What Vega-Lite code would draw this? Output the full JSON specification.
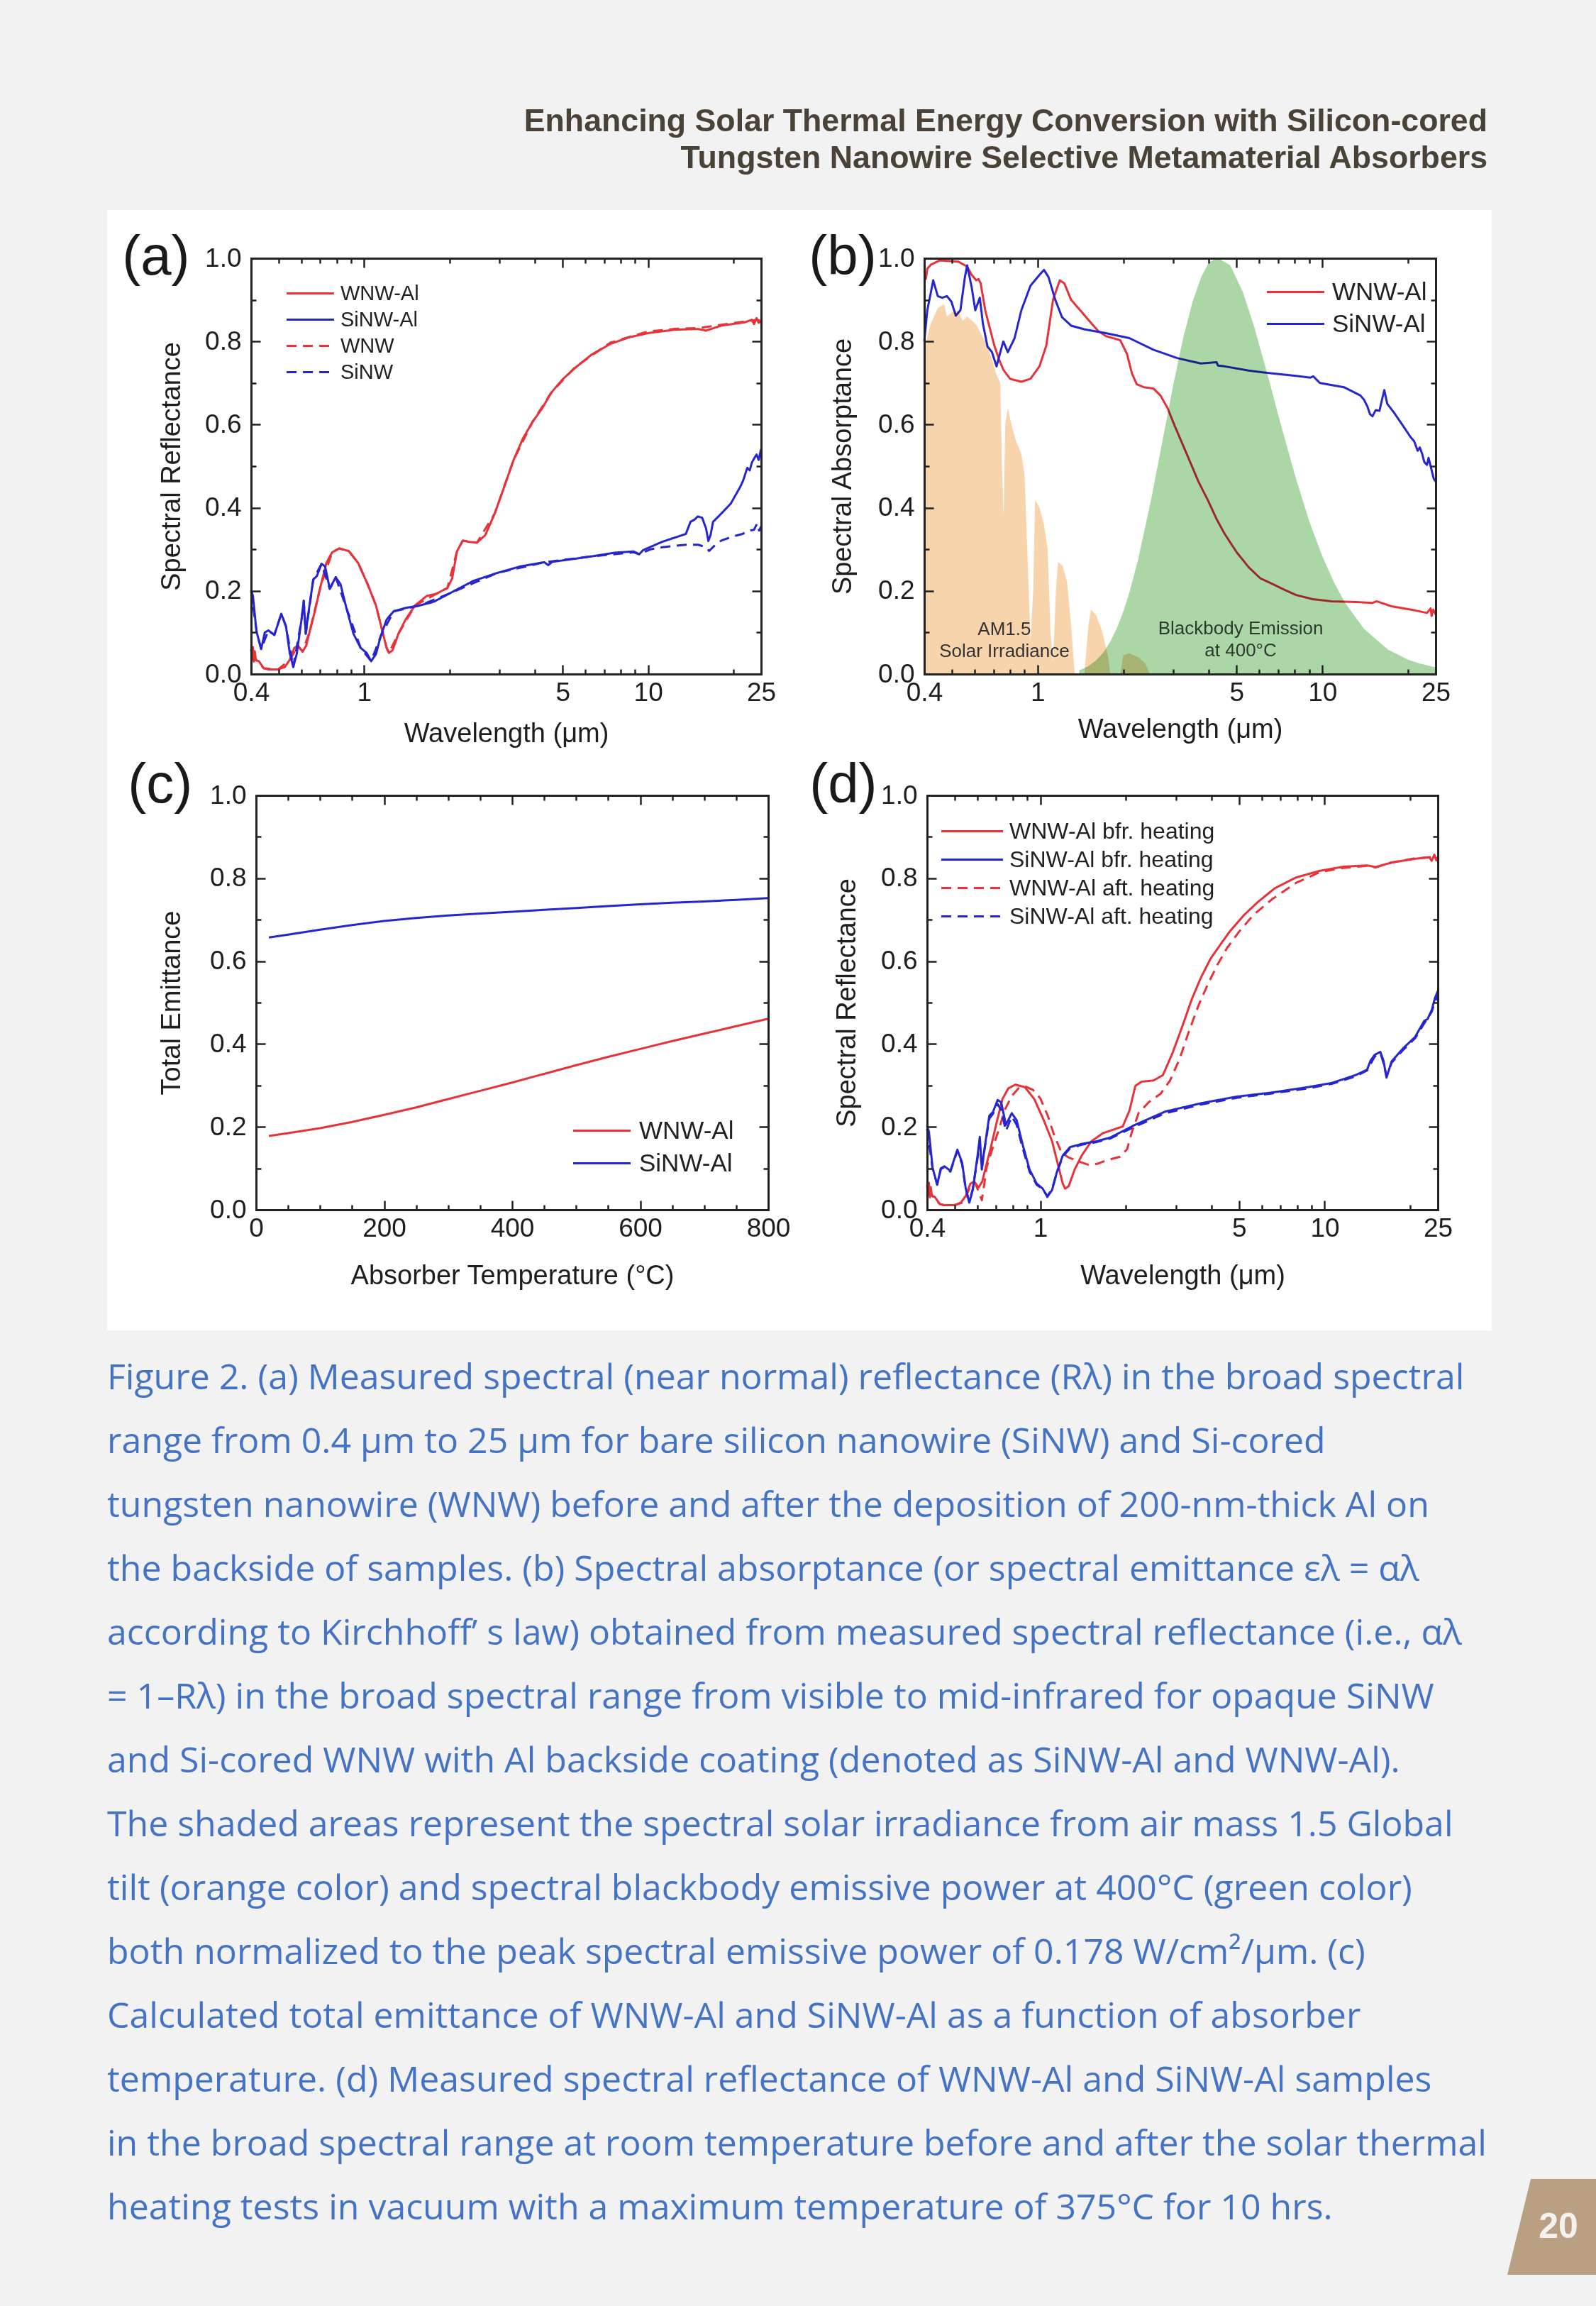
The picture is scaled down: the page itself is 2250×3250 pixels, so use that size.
{
"$schema": "https://vega.github.io/schema/vega-lite/v6.json",
"width": 2250, "height": 3250, "autosize": "none", "padding": 0,
"background": "#f2f2f2",
"config": {"view": {"stroke": null},
 "legend": {"labelLimit": 1000},
 "axis": {"labelFont": "Liberation Sans", "labelFontSize": 37, "labelColor": "#1e1e1e", "titleFont": "Liberation Sans", "titleFontSize": 38, "titleFontWeight": "normal", "titleColor": "#1e1e1e", "grid": false, "tickColor": "#222", "tickWidth": 2.5, "domainColor": "#222", "domainWidth": 3, "domainCap": "square", "labelFlush": false, "labelOverlap": false, "labelBound": false}},
"resolve": {"scale": {"x": "independent", "y": "independent", "color": "independent", "strokeDash": "independent"}, "axis": {"x": "independent", "y": "independent"}, "legend": {"color": "independent", "strokeDash": "independent"}},
"datasets": {
 "header": [{"h":1,"t":"Enhancing Solar Thermal Energy Conversion with Silicon-cored"},{"h":2,"t":"Tungsten Nanowire Selective Metamaterial Absorbers"}],
 "caption": [
  {"line":1,"t":"Figure 2. (a) Measured spectral (near normal) reflectance (Rλ) in the broad spectral"},
  {"line":2,"t":"range from 0.4 μm to 25 μm for bare silicon nanowire (SiNW) and Si-cored"},
  {"line":3,"t":"tungsten nanowire (WNW) before and after the deposition of 200-nm-thick Al on"},
  {"line":4,"t":"the backside of samples. (b) Spectral absorptance (or spectral emittance ελ = αλ"},
  {"line":5,"t":"according to Kirchhoff’ s law) obtained from measured spectral reflectance (i.e., αλ"},
  {"line":6,"t":"= 1–Rλ) in the broad spectral range from visible to mid-infrared for opaque SiNW"},
  {"line":7,"t":"and Si-cored WNW with Al backside coating (denoted as SiNW-Al and WNW-Al)."},
  {"line":8,"t":"The shaded areas represent the spectral solar irradiance from air mass 1.5 Global"},
  {"line":9,"t":"tilt (orange color) and spectral blackbody emissive power at 400°C (green color)"},
  {"line":10,"t":"both normalized to the peak spectral emissive power of 0.178 W/cm²/μm. (c)"},
  {"line":11,"t":"Calculated total emittance of WNW-Al and SiNW-Al as a function of absorber"},
  {"line":12,"t":"temperature. (d) Measured spectral reflectance of WNW-Al and SiNW-Al samples"},
  {"line":13,"t":"in the broad spectral range at room temperature before and after the solar thermal"},
  {"line":14,"t":"heating tests in vacuum with a maximum temperature of 375°C for 10 hrs."}],
 "a": [
  {"x":0.4,"y":0.06,"s":"WNW-Al"},{"x":0.403,"y":0.035,"s":"WNW-Al"},{"x":0.406,"y":0.065,"s":"WNW-Al"},{"x":0.409,"y":0.03,"s":"WNW-Al"},{"x":0.412,"y":0.055,"s":"WNW-Al"},{"x":0.416,"y":0.033,"s":"WNW-Al"},{"x":0.426,"y":0.031,"s":"WNW-Al"},{"x":0.443,"y":0.014,"s":"WNW-Al"},{"x":0.46,"y":0.011,"s":"WNW-Al"},{"x":0.497,"y":0.011,"s":"WNW-Al"},{"x":0.526,"y":0.017,"s":"WNW-Al"},{"x":0.547,"y":0.034,"s":"WNW-Al"},{"x":0.568,"y":0.063,"s":"WNW-Al"},{"x":0.585,"y":0.068,"s":"WNW-Al"},{"x":0.607,"y":0.054,"s":"WNW-Al"},{"x":0.625,"y":0.068,"s":"WNW-Al"},{"x":0.643,"y":0.102,"s":"WNW-Al"},{"x":0.669,"y":0.148,"s":"WNW-Al"},{"x":0.702,"y":0.21,"s":"WNW-Al"},{"x":0.736,"y":0.267,"s":"WNW-Al"},{"x":0.772,"y":0.293,"s":"WNW-Al"},{"x":0.818,"y":0.302,"s":"WNW-Al"},{"x":0.883,"y":0.296,"s":"WNW-Al"},{"x":0.953,"y":0.267,"s":"WNW-Al"},{"x":1.029,"y":0.216,"s":"WNW-Al"},{"x":1.101,"y":0.165,"s":"WNW-Al"},{"x":1.155,"y":0.108,"s":"WNW-Al"},{"x":1.2,"y":0.063,"s":"WNW-Al"},{"x":1.223,"y":0.051,"s":"WNW-Al"},{"x":1.259,"y":0.057,"s":"WNW-Al"},{"x":1.321,"y":0.097,"s":"WNW-Al"},{"x":1.399,"y":0.131,"s":"WNW-Al"},{"x":1.511,"y":0.165,"s":"WNW-Al"},{"x":1.662,"y":0.188,"s":"WNW-Al"},{"x":1.795,"y":0.193,"s":"WNW-Al"},{"x":1.965,"y":0.207,"s":"WNW-Al"},{"x":2.042,"y":0.23,"s":"WNW-Al"},{"x":2.123,"y":0.295,"s":"WNW-Al"},{"x":2.225,"y":0.321,"s":"WNW-Al"},{"x":2.334,"y":0.318,"s":"WNW-Al"},{"x":2.497,"y":0.316,"s":"WNW-Al"},{"x":2.67,"y":0.334,"s":"WNW-Al"},{"x":2.883,"y":0.386,"s":"WNW-Al"},{"x":3.113,"y":0.45,"s":"WNW-Al"},{"x":3.36,"y":0.515,"s":"WNW-Al"},{"x":3.627,"y":0.567,"s":"WNW-Al"},{"x":3.914,"y":0.606,"s":"WNW-Al"},{"x":4.226,"y":0.638,"s":"WNW-Al"},{"x":4.562,"y":0.677,"s":"WNW-Al"},{"x":5.02,"y":0.71,"s":"WNW-Al"},{"x":5.525,"y":0.736,"s":"WNW-Al"},{"x":6.318,"y":0.768,"s":"WNW-Al"},{"x":7.36,"y":0.794,"s":"WNW-Al"},{"x":8.58,"y":0.81,"s":"WNW-Al"},{"x":10,"y":0.82,"s":"WNW-Al"},{"x":12.35,"y":0.828,"s":"WNW-Al"},{"x":14.95,"y":0.83,"s":"WNW-Al"},{"x":16,"y":0.826,"s":"WNW-Al"},{"x":18.1,"y":0.838,"s":"WNW-Al"},{"x":21.9,"y":0.846,"s":"WNW-Al"},{"x":23.2,"y":0.852,"s":"WNW-Al"},{"x":23.6,"y":0.842,"s":"WNW-Al"},{"x":24.1,"y":0.856,"s":"WNW-Al"},{"x":24.5,"y":0.845,"s":"WNW-Al"},{"x":25,"y":0.849,"s":"WNW-Al"},
  {"x":0.4,"y":0.05,"s":"WNW"},{"x":0.416,"y":0.035,"s":"WNW"},{"x":0.443,"y":0.014,"s":"WNW"},{"x":0.497,"y":0.011,"s":"WNW"},{"x":0.547,"y":0.034,"s":"WNW"},{"x":0.585,"y":0.068,"s":"WNW"},{"x":0.607,"y":0.054,"s":"WNW"},{"x":0.643,"y":0.102,"s":"WNW"},{"x":0.702,"y":0.21,"s":"WNW"},{"x":0.772,"y":0.293,"s":"WNW"},{"x":0.818,"y":0.302,"s":"WNW"},{"x":0.883,"y":0.296,"s":"WNW"},{"x":0.953,"y":0.267,"s":"WNW"},{"x":1.029,"y":0.216,"s":"WNW"},{"x":1.101,"y":0.165,"s":"WNW"},{"x":1.2,"y":0.063,"s":"WNW"},{"x":1.223,"y":0.051,"s":"WNW"},{"x":1.321,"y":0.097,"s":"WNW"},{"x":1.511,"y":0.165,"s":"WNW"},{"x":1.795,"y":0.193,"s":"WNW"},{"x":1.965,"y":0.207,"s":"WNW"},{"x":2.123,"y":0.295,"s":"WNW"},{"x":2.225,"y":0.321,"s":"WNW"},{"x":2.497,"y":0.316,"s":"WNW"},{"x":2.883,"y":0.386,"s":"WNW"},{"x":3.36,"y":0.515,"s":"WNW"},{"x":3.914,"y":0.606,"s":"WNW"},{"x":4.562,"y":0.677,"s":"WNW"},{"x":5.525,"y":0.738,"s":"WNW"},{"x":7.36,"y":0.797,"s":"WNW"},{"x":10,"y":0.824,"s":"WNW"},{"x":12.35,"y":0.83,"s":"WNW"},{"x":14.95,"y":0.832,"s":"WNW"},{"x":18.1,"y":0.84,"s":"WNW"},{"x":21.9,"y":0.848,"s":"WNW"},{"x":24.1,"y":0.852,"s":"WNW"},{"x":25,"y":0.85,"s":"WNW"},
  {"x":0.4,"y":0.202,"s":"SiNW-Al"},{"x":0.406,"y":0.188,"s":"SiNW-Al"},{"x":0.418,"y":0.102,"s":"SiNW-Al"},{"x":0.434,"y":0.06,"s":"SiNW-Al"},{"x":0.447,"y":0.1,"s":"SiNW-Al"},{"x":0.46,"y":0.105,"s":"SiNW-Al"},{"x":0.483,"y":0.094,"s":"SiNW-Al"},{"x":0.511,"y":0.145,"s":"SiNW-Al"},{"x":0.531,"y":0.114,"s":"SiNW-Al"},{"x":0.547,"y":0.051,"s":"SiNW-Al"},{"x":0.563,"y":0.017,"s":"SiNW-Al"},{"x":0.579,"y":0.048,"s":"SiNW-Al"},{"x":0.602,"y":0.131,"s":"SiNW-Al"},{"x":0.613,"y":0.176,"s":"SiNW-Al"},{"x":0.623,"y":0.097,"s":"SiNW-Al"},{"x":0.635,"y":0.142,"s":"SiNW-Al"},{"x":0.662,"y":0.227,"s":"SiNW-Al"},{"x":0.682,"y":0.236,"s":"SiNW-Al"},{"x":0.708,"y":0.265,"s":"SiNW-Al"},{"x":0.729,"y":0.259,"s":"SiNW-Al"},{"x":0.757,"y":0.205,"s":"SiNW-Al"},{"x":0.794,"y":0.233,"s":"SiNW-Al"},{"x":0.826,"y":0.216,"s":"SiNW-Al"},{"x":0.866,"y":0.159,"s":"SiNW-Al"},{"x":0.917,"y":0.097,"s":"SiNW-Al"},{"x":0.972,"y":0.063,"s":"SiNW-Al"},{"x":1.02,"y":0.051,"s":"SiNW-Al"},{"x":1.059,"y":0.031,"s":"SiNW-Al"},{"x":1.101,"y":0.048,"s":"SiNW-Al"},{"x":1.144,"y":0.091,"s":"SiNW-Al"},{"x":1.2,"y":0.131,"s":"SiNW-Al"},{"x":1.271,"y":0.151,"s":"SiNW-Al"},{"x":1.399,"y":0.159,"s":"SiNW-Al"},{"x":1.57,"y":0.165,"s":"SiNW-Al"},{"x":1.76,"y":0.174,"s":"SiNW-Al"},{"x":2,"y":0.194,"s":"SiNW-Al"},{"x":2.424,"y":0.224,"s":"SiNW-Al"},{"x":2.936,"y":0.243,"s":"SiNW-Al"},{"x":3.556,"y":0.259,"s":"SiNW-Al"},{"x":4.31,"y":0.269,"s":"SiNW-Al"},{"x":4.45,"y":0.262,"s":"SiNW-Al"},{"x":4.6,"y":0.27,"s":"SiNW-Al"},{"x":5.22,"y":0.275,"s":"SiNW-Al"},{"x":6.32,"y":0.283,"s":"SiNW-Al"},{"x":7.65,"y":0.292,"s":"SiNW-Al"},{"x":8.9,"y":0.295,"s":"SiNW-Al"},{"x":9.3,"y":0.288,"s":"SiNW-Al"},{"x":9.6,"y":0.298,"s":"SiNW-Al"},{"x":11.2,"y":0.318,"s":"SiNW-Al"},{"x":13.58,"y":0.337,"s":"SiNW-Al"},{"x":14.1,"y":0.366,"s":"SiNW-Al"},{"x":14.6,"y":0.372,"s":"SiNW-Al"},{"x":14.95,"y":0.379,"s":"SiNW-Al"},{"x":15.5,"y":0.376,"s":"SiNW-Al"},{"x":16,"y":0.35,"s":"SiNW-Al"},{"x":16.3,"y":0.32,"s":"SiNW-Al"},{"x":16.6,"y":0.335,"s":"SiNW-Al"},{"x":16.93,"y":0.366,"s":"SiNW-Al"},{"x":18.1,"y":0.386,"s":"SiNW-Al"},{"x":19.55,"y":0.41,"s":"SiNW-Al"},{"x":20.3,"y":0.43,"s":"SiNW-Al"},{"x":21.1,"y":0.45,"s":"SiNW-Al"},{"x":21.6,"y":0.465,"s":"SiNW-Al"},{"x":22.35,"y":0.496,"s":"SiNW-Al"},{"x":22.8,"y":0.49,"s":"SiNW-Al"},{"x":23.2,"y":0.509,"s":"SiNW-Al"},{"x":23.7,"y":0.52,"s":"SiNW-Al"},{"x":24.1,"y":0.528,"s":"SiNW-Al"},{"x":24.5,"y":0.515,"s":"SiNW-Al"},{"x":25,"y":0.541,"s":"SiNW-Al"},
  {"x":0.4,"y":0.2,"s":"SiNW"},{"x":0.418,"y":0.102,"s":"SiNW"},{"x":0.434,"y":0.06,"s":"SiNW"},{"x":0.46,"y":0.105,"s":"SiNW"},{"x":0.483,"y":0.094,"s":"SiNW"},{"x":0.511,"y":0.145,"s":"SiNW"},{"x":0.531,"y":0.114,"s":"SiNW"},{"x":0.563,"y":0.017,"s":"SiNW"},{"x":0.602,"y":0.131,"s":"SiNW"},{"x":0.613,"y":0.176,"s":"SiNW"},{"x":0.623,"y":0.097,"s":"SiNW"},{"x":0.662,"y":0.227,"s":"SiNW"},{"x":0.708,"y":0.265,"s":"SiNW"},{"x":0.757,"y":0.205,"s":"SiNW"},{"x":0.794,"y":0.233,"s":"SiNW"},{"x":0.866,"y":0.159,"s":"SiNW"},{"x":0.972,"y":0.063,"s":"SiNW"},{"x":1.059,"y":0.031,"s":"SiNW"},{"x":1.144,"y":0.091,"s":"SiNW"},{"x":1.271,"y":0.151,"s":"SiNW"},{"x":1.57,"y":0.165,"s":"SiNW"},{"x":2,"y":0.194,"s":"SiNW"},{"x":2.936,"y":0.243,"s":"SiNW"},{"x":4.31,"y":0.269,"s":"SiNW"},{"x":6.32,"y":0.283,"s":"SiNW"},{"x":8.9,"y":0.293,"s":"SiNW"},{"x":9.3,"y":0.288,"s":"SiNW"},{"x":10.2,"y":0.3,"s":"SiNW"},{"x":11.2,"y":0.305,"s":"SiNW"},{"x":12.3,"y":0.308,"s":"SiNW"},{"x":13.6,"y":0.311,"s":"SiNW"},{"x":15,"y":0.311,"s":"SiNW"},{"x":16,"y":0.305,"s":"SiNW"},{"x":16.4,"y":0.296,"s":"SiNW"},{"x":17.2,"y":0.31,"s":"SiNW"},{"x":18.1,"y":0.321,"s":"SiNW"},{"x":19.9,"y":0.331,"s":"SiNW"},{"x":21.5,"y":0.337,"s":"SiNW"},{"x":22.5,"y":0.345,"s":"SiNW"},{"x":23.6,"y":0.347,"s":"SiNW"},{"x":24.2,"y":0.362,"s":"SiNW"},{"x":24.6,"y":0.345,"s":"SiNW"},{"x":25,"y":0.355,"s":"SiNW"}],
 "b": [
  {"x":0.4,"y":0.968,"s":"WNW-Al"},{"x":0.405,"y":0.95,"s":"WNW-Al"},{"x":0.41,"y":0.975,"s":"WNW-Al"},{"x":0.4225,"y":0.985,"s":"WNW-Al"},{"x":0.4544,"y":0.995,"s":"WNW-Al"},{"x":0.526,"y":0.992,"s":"WNW-Al"},{"x":0.566,"y":0.98,"s":"WNW-Al"},{"x":0.587,"y":0.96,"s":"WNW-Al"},{"x":0.609,"y":0.947,"s":"WNW-Al"},{"x":0.62,"y":0.95,"s":"WNW-Al"},{"x":0.631,"y":0.94,"s":"WNW-Al"},{"x":0.655,"y":0.875,"s":"WNW-Al"},{"x":0.679,"y":0.833,"s":"WNW-Al"},{"x":0.705,"y":0.79,"s":"WNW-Al"},{"x":0.731,"y":0.758,"s":"WNW-Al"},{"x":0.758,"y":0.732,"s":"WNW-Al"},{"x":0.801,"y":0.71,"s":"WNW-Al"},{"x":0.877,"y":0.703,"s":"WNW-Al"},{"x":0.944,"y":0.71,"s":"WNW-Al"},{"x":1.015,"y":0.74,"s":"WNW-Al"},{"x":1.073,"y":0.79,"s":"WNW-Al"},{"x":1.133,"y":0.9,"s":"WNW-Al"},{"x":1.197,"y":0.947,"s":"WNW-Al"},{"x":1.241,"y":0.94,"s":"WNW-Al"},{"x":1.311,"y":0.9,"s":"WNW-Al"},{"x":1.411,"y":0.875,"s":"WNW-Al"},{"x":1.517,"y":0.85,"s":"WNW-Al"},{"x":1.633,"y":0.825,"s":"WNW-Al"},{"x":1.735,"y":0.813,"s":"WNW-Al"},{"x":1.95,"y":0.803,"s":"WNW-Al"},{"x":2.06,"y":0.77,"s":"WNW-Al"},{"x":2.145,"y":0.723,"s":"WNW-Al"},{"x":2.23,"y":0.697,"s":"WNW-Al"},{"x":2.36,"y":0.69,"s":"WNW-Al"},{"x":2.55,"y":0.687,"s":"WNW-Al"},{"x":2.7,"y":0.67,"s":"WNW-Al"},{"x":2.86,"y":0.64,"s":"WNW-Al"},{"x":3.03,"y":0.597,"s":"WNW-Al"},{"x":3.21,"y":0.557,"s":"WNW-Al"},{"x":3.4,"y":0.517,"s":"WNW-Al"},{"x":3.67,"y":0.463,"s":"WNW-Al"},{"x":3.97,"y":0.417,"s":"WNW-Al"},{"x":4.25,"y":0.373,"s":"WNW-Al"},{"x":4.54,"y":0.337,"s":"WNW-Al"},{"x":5,"y":0.293,"s":"WNW-Al"},{"x":5.51,"y":0.257,"s":"WNW-Al"},{"x":6.06,"y":0.23,"s":"WNW-Al"},{"x":6.67,"y":0.217,"s":"WNW-Al"},{"x":7.35,"y":0.203,"s":"WNW-Al"},{"x":8.09,"y":0.19,"s":"WNW-Al"},{"x":9.26,"y":0.18,"s":"WNW-Al"},{"x":10.8,"y":0.175,"s":"WNW-Al"},{"x":13.1,"y":0.173,"s":"WNW-Al"},{"x":14.98,"y":0.171,"s":"WNW-Al"},{"x":15.5,"y":0.175,"s":"WNW-Al"},{"x":17.5,"y":0.163,"s":"WNW-Al"},{"x":21.2,"y":0.153,"s":"WNW-Al"},{"x":23.3,"y":0.147,"s":"WNW-Al"},{"x":24,"y":0.158,"s":"WNW-Al"},{"x":24.2,"y":0.14,"s":"WNW-Al"},{"x":24.5,"y":0.155,"s":"WNW-Al"},{"x":25,"y":0.143,"s":"WNW-Al"},
  {"x":0.4,"y":0.8,"s":"SiNW-Al"},{"x":0.41,"y":0.875,"s":"SiNW-Al"},{"x":0.4195,"y":0.909,"s":"SiNW-Al"},{"x":0.43,"y":0.947,"s":"SiNW-Al"},{"x":0.4463,"y":0.909,"s":"SiNW-Al"},{"x":0.4628,"y":0.905,"s":"SiNW-Al"},{"x":0.48,"y":0.909,"s":"SiNW-Al"},{"x":0.498,"y":0.896,"s":"SiNW-Al"},{"x":0.5164,"y":0.862,"s":"SiNW-Al"},{"x":0.5357,"y":0.875,"s":"SiNW-Al"},{"x":0.5557,"y":0.955,"s":"SiNW-Al"},{"x":0.566,"y":0.983,"s":"SiNW-Al"},{"x":0.587,"y":0.93,"s":"SiNW-Al"},{"x":0.6043,"y":0.875,"s":"SiNW-Al"},{"x":0.6267,"y":0.905,"s":"SiNW-Al"},{"x":0.643,"y":0.842,"s":"SiNW-Al"},{"x":0.6669,"y":0.788,"s":"SiNW-Al"},{"x":0.6918,"y":0.774,"s":"SiNW-Al"},{"x":0.7175,"y":0.74,"s":"SiNW-Al"},{"x":0.7444,"y":0.781,"s":"SiNW-Al"},{"x":0.758,"y":0.8,"s":"SiNW-Al"},{"x":0.7862,"y":0.774,"s":"SiNW-Al"},{"x":0.8304,"y":0.808,"s":"SiNW-Al"},{"x":0.877,"y":0.875,"s":"SiNW-Al"},{"x":0.944,"y":0.934,"s":"SiNW-Al"},{"x":1.015,"y":0.96,"s":"SiNW-Al"},{"x":1.053,"y":0.972,"s":"SiNW-Al"},{"x":1.092,"y":0.955,"s":"SiNW-Al"},{"x":1.154,"y":0.9,"s":"SiNW-Al"},{"x":1.219,"y":0.858,"s":"SiNW-Al"},{"x":1.311,"y":0.838,"s":"SiNW-Al"},{"x":1.463,"y":0.829,"s":"SiNW-Al"},{"x":1.735,"y":0.82,"s":"SiNW-Al"},{"x":2.1,"y":0.808,"s":"SiNW-Al"},{"x":2.55,"y":0.78,"s":"SiNW-Al"},{"x":3.09,"y":0.76,"s":"SiNW-Al"},{"x":3.74,"y":0.747,"s":"SiNW-Al"},{"x":4.25,"y":0.75,"s":"SiNW-Al"},{"x":4.3,"y":0.742,"s":"SiNW-Al"},{"x":4.54,"y":0.74,"s":"SiNW-Al"},{"x":5.51,"y":0.73,"s":"SiNW-Al"},{"x":6.67,"y":0.723,"s":"SiNW-Al"},{"x":8.09,"y":0.717,"s":"SiNW-Al"},{"x":9.08,"y":0.713,"s":"SiNW-Al"},{"x":9.3,"y":0.716,"s":"SiNW-Al"},{"x":9.8,"y":0.7,"s":"SiNW-Al"},{"x":11.9,"y":0.69,"s":"SiNW-Al"},{"x":13.6,"y":0.67,"s":"SiNW-Al"},{"x":14,"y":0.66,"s":"SiNW-Al"},{"x":14.4,"y":0.643,"s":"SiNW-Al"},{"x":14.7,"y":0.625,"s":"SiNW-Al"},{"x":15,"y":0.62,"s":"SiNW-Al"},{"x":15.4,"y":0.635,"s":"SiNW-Al"},{"x":15.86,"y":0.633,"s":"SiNW-Al"},{"x":16.2,"y":0.66,"s":"SiNW-Al"},{"x":16.5,"y":0.683,"s":"SiNW-Al"},{"x":16.9,"y":0.65,"s":"SiNW-Al"},{"x":17.8,"y":0.63,"s":"SiNW-Al"},{"x":19.2,"y":0.597,"s":"SiNW-Al"},{"x":20.4,"y":0.57,"s":"SiNW-Al"},{"x":21,"y":0.56,"s":"SiNW-Al"},{"x":21.6,"y":0.537,"s":"SiNW-Al"},{"x":22,"y":0.545,"s":"SiNW-Al"},{"x":22.4,"y":0.53,"s":"SiNW-Al"},{"x":22.8,"y":0.51,"s":"SiNW-Al"},{"x":23.3,"y":0.503,"s":"SiNW-Al"},{"x":23.6,"y":0.52,"s":"SiNW-Al"},{"x":24.2,"y":0.49,"s":"SiNW-Al"},{"x":24.6,"y":0.47,"s":"SiNW-Al"},{"x":25,"y":0.463,"s":"SiNW-Al"}],
 "solar": [
  {"x":0.4,"y":0.78},{"x":0.42,"y":0.84},{"x":0.446,"y":0.88},{"x":0.47,"y":0.89},{"x":0.48,"y":0.86},{"x":0.5,"y":0.87},{"x":0.526,"y":0.875},{"x":0.545,"y":0.85},{"x":0.566,"y":0.86},{"x":0.609,"y":0.84},{"x":0.655,"y":0.8},{"x":0.69,"y":0.76},{"x":0.717,"y":0.72},{"x":0.74,"y":0.7},{"x":0.75,"y":0.5},{"x":0.76,"y":0.38},{"x":0.77,"y":0.6},{"x":0.786,"y":0.64},{"x":0.81,"y":0.6},{"x":0.84,"y":0.56},{"x":0.877,"y":0.53},{"x":0.9,"y":0.48},{"x":0.92,"y":0.3},{"x":0.944,"y":0.08},{"x":0.965,"y":0.2},{"x":0.98,"y":0.42},{"x":1.015,"y":0.4},{"x":1.053,"y":0.36},{"x":1.085,"y":0.3},{"x":1.11,"y":0.1},{"x":1.133,"y":0.03},{"x":1.16,"y":0.2},{"x":1.18,"y":0.27},{"x":1.225,"y":0.26},{"x":1.27,"y":0.22},{"x":1.31,"y":0.12},{"x":1.35,"y":0},{"x":1.46,"y":0},{"x":1.51,"y":0.12},{"x":1.54,"y":0.155},{"x":1.61,"y":0.14},{"x":1.69,"y":0.1},{"x":1.77,"y":0.04},{"x":1.8,"y":0},{"x":1.95,"y":0},{"x":2,"y":0.045},{"x":2.1,"y":0.05},{"x":2.26,"y":0.04},{"x":2.39,"y":0.025},{"x":2.48,"y":0}],
 "bb": [
  {"x":1.4,"y":0.009},{"x":1.5,"y":0.018},{"x":1.6,"y":0.032},{"x":1.7,"y":0.051},{"x":1.8,"y":0.078},{"x":1.9,"y":0.111},{"x":2,"y":0.15},{"x":2.1,"y":0.196},{"x":2.25,"y":0.273},{"x":2.5,"y":0.417},{"x":2.75,"y":0.564},{"x":3,"y":0.698},{"x":3.25,"y":0.81},{"x":3.5,"y":0.895},{"x":3.75,"y":0.954},{"x":4,"y":0.991},{"x":4.31,"y":1},{"x":4.75,"y":0.983},{"x":5.25,"y":0.92},{"x":5.75,"y":0.838},{"x":6,"y":0.792},{"x":6.5,"y":0.707},{"x":7,"y":0.623},{"x":8,"y":0.48},{"x":9,"y":0.367},{"x":10,"y":0.283},{"x":11,"y":0.22},{"x":12,"y":0.172},{"x":14,"y":0.109},{"x":17,"y":0.059},{"x":20,"y":0.0345},{"x":22,"y":0.025},{"x":25,"y":0.016}],
 "c": [
  {"x":20,"y":0.178,"s":"WNW-Al"},{"x":50,"y":0.185,"s":"WNW-Al"},{"x":100,"y":0.197,"s":"WNW-Al"},{"x":150,"y":0.212,"s":"WNW-Al"},{"x":200,"y":0.229,"s":"WNW-Al"},{"x":250,"y":0.247,"s":"WNW-Al"},{"x":300,"y":0.267,"s":"WNW-Al"},{"x":350,"y":0.287,"s":"WNW-Al"},{"x":400,"y":0.307,"s":"WNW-Al"},{"x":450,"y":0.328,"s":"WNW-Al"},{"x":500,"y":0.349,"s":"WNW-Al"},{"x":550,"y":0.369,"s":"WNW-Al"},{"x":600,"y":0.388,"s":"WNW-Al"},{"x":650,"y":0.407,"s":"WNW-Al"},{"x":700,"y":0.425,"s":"WNW-Al"},{"x":750,"y":0.443,"s":"WNW-Al"},{"x":800,"y":0.461,"s":"WNW-Al"},
  {"x":20,"y":0.657,"s":"SiNW-Al"},{"x":50,"y":0.664,"s":"SiNW-Al"},{"x":100,"y":0.676,"s":"SiNW-Al"},{"x":150,"y":0.687,"s":"SiNW-Al"},{"x":200,"y":0.697,"s":"SiNW-Al"},{"x":250,"y":0.704,"s":"SiNW-Al"},{"x":300,"y":0.71,"s":"SiNW-Al"},{"x":350,"y":0.715,"s":"SiNW-Al"},{"x":400,"y":0.719,"s":"SiNW-Al"},{"x":450,"y":0.724,"s":"SiNW-Al"},{"x":500,"y":0.728,"s":"SiNW-Al"},{"x":550,"y":0.733,"s":"SiNW-Al"},{"x":600,"y":0.737,"s":"SiNW-Al"},{"x":650,"y":0.741,"s":"SiNW-Al"},{"x":700,"y":0.744,"s":"SiNW-Al"},{"x":750,"y":0.748,"s":"SiNW-Al"},{"x":800,"y":0.752,"s":"SiNW-Al"}],
 "d": [
  {"x":0.4,"y":0.06,"s":"WNW-Al bfr. heating"},{"x":0.403,"y":0.035,"s":"WNW-Al bfr. heating"},{"x":0.406,"y":0.065,"s":"WNW-Al bfr. heating"},{"x":0.409,"y":0.03,"s":"WNW-Al bfr. heating"},{"x":0.412,"y":0.055,"s":"WNW-Al bfr. heating"},{"x":0.416,"y":0.033,"s":"WNW-Al bfr. heating"},{"x":0.426,"y":0.031,"s":"WNW-Al bfr. heating"},{"x":0.443,"y":0.014,"s":"WNW-Al bfr. heating"},{"x":0.46,"y":0.011,"s":"WNW-Al bfr. heating"},{"x":0.497,"y":0.011,"s":"WNW-Al bfr. heating"},{"x":0.526,"y":0.017,"s":"WNW-Al bfr. heating"},{"x":0.547,"y":0.034,"s":"WNW-Al bfr. heating"},{"x":0.568,"y":0.063,"s":"WNW-Al bfr. heating"},{"x":0.585,"y":0.068,"s":"WNW-Al bfr. heating"},{"x":0.607,"y":0.054,"s":"WNW-Al bfr. heating"},{"x":0.625,"y":0.068,"s":"WNW-Al bfr. heating"},{"x":0.643,"y":0.102,"s":"WNW-Al bfr. heating"},{"x":0.669,"y":0.148,"s":"WNW-Al bfr. heating"},{"x":0.702,"y":0.21,"s":"WNW-Al bfr. heating"},{"x":0.736,"y":0.267,"s":"WNW-Al bfr. heating"},{"x":0.772,"y":0.293,"s":"WNW-Al bfr. heating"},{"x":0.818,"y":0.302,"s":"WNW-Al bfr. heating"},{"x":0.883,"y":0.296,"s":"WNW-Al bfr. heating"},{"x":0.953,"y":0.267,"s":"WNW-Al bfr. heating"},{"x":1.029,"y":0.216,"s":"WNW-Al bfr. heating"},{"x":1.101,"y":0.165,"s":"WNW-Al bfr. heating"},{"x":1.155,"y":0.108,"s":"WNW-Al bfr. heating"},{"x":1.2,"y":0.063,"s":"WNW-Al bfr. heating"},{"x":1.223,"y":0.051,"s":"WNW-Al bfr. heating"},{"x":1.259,"y":0.057,"s":"WNW-Al bfr. heating"},{"x":1.321,"y":0.097,"s":"WNW-Al bfr. heating"},{"x":1.399,"y":0.131,"s":"WNW-Al bfr. heating"},{"x":1.511,"y":0.165,"s":"WNW-Al bfr. heating"},{"x":1.662,"y":0.185,"s":"WNW-Al bfr. heating"},{"x":1.95,"y":0.201,"s":"WNW-Al bfr. heating"},{"x":2.06,"y":0.24,"s":"WNW-Al bfr. heating"},{"x":2.16,"y":0.299,"s":"WNW-Al bfr. heating"},{"x":2.27,"y":0.309,"s":"WNW-Al bfr. heating"},{"x":2.5,"y":0.312,"s":"WNW-Al bfr. heating"},{"x":2.7,"y":0.325,"s":"WNW-Al bfr. heating"},{"x":2.917,"y":0.378,"s":"WNW-Al bfr. heating"},{"x":3.16,"y":0.443,"s":"WNW-Al bfr. heating"},{"x":3.41,"y":0.508,"s":"WNW-Al bfr. heating"},{"x":3.67,"y":0.56,"s":"WNW-Al bfr. heating"},{"x":3.97,"y":0.606,"s":"WNW-Al bfr. heating"},{"x":4.29,"y":0.639,"s":"WNW-Al bfr. heating"},{"x":4.63,"y":0.671,"s":"WNW-Al bfr. heating"},{"x":5.2,"y":0.711,"s":"WNW-Al bfr. heating"},{"x":5.83,"y":0.743,"s":"WNW-Al bfr. heating"},{"x":6.68,"y":0.776,"s":"WNW-Al bfr. heating"},{"x":7.94,"y":0.802,"s":"WNW-Al bfr. heating"},{"x":9.62,"y":0.818,"s":"WNW-Al bfr. heating"},{"x":11.66,"y":0.828,"s":"WNW-Al bfr. heating"},{"x":14.1,"y":0.831,"s":"WNW-Al bfr. heating"},{"x":15.1,"y":0.827,"s":"WNW-Al bfr. heating"},{"x":17.2,"y":0.838,"s":"WNW-Al bfr. heating"},{"x":20.8,"y":0.847,"s":"WNW-Al bfr. heating"},{"x":23.3,"y":0.851,"s":"WNW-Al bfr. heating"},{"x":23.8,"y":0.842,"s":"WNW-Al bfr. heating"},{"x":24.3,"y":0.857,"s":"WNW-Al bfr. heating"},{"x":24.7,"y":0.843,"s":"WNW-Al bfr. heating"},{"x":25,"y":0.847,"s":"WNW-Al bfr. heating"},
  {"x":0.4,"y":0.05,"s":"WNW-Al aft. heating"},{"x":0.416,"y":0.035,"s":"WNW-Al aft. heating"},{"x":0.443,"y":0.014,"s":"WNW-Al aft. heating"},{"x":0.46,"y":0.011,"s":"WNW-Al aft. heating"},{"x":0.5,"y":0.011,"s":"WNW-Al aft. heating"},{"x":0.53,"y":0.017,"s":"WNW-Al aft. heating"},{"x":0.55,"y":0.034,"s":"WNW-Al aft. heating"},{"x":0.57,"y":0.06,"s":"WNW-Al aft. heating"},{"x":0.59,"y":0.065,"s":"WNW-Al aft. heating"},{"x":0.61,"y":0.04,"s":"WNW-Al aft. heating"},{"x":0.623,"y":0.023,"s":"WNW-Al aft. heating"},{"x":0.635,"y":0.06,"s":"WNW-Al aft. heating"},{"x":0.648,"y":0.103,"s":"WNW-Al aft. heating"},{"x":0.68,"y":0.149,"s":"WNW-Al aft. heating"},{"x":0.72,"y":0.2,"s":"WNW-Al aft. heating"},{"x":0.749,"y":0.24,"s":"WNW-Al aft. heating"},{"x":0.793,"y":0.274,"s":"WNW-Al aft. heating"},{"x":0.841,"y":0.294,"s":"WNW-Al aft. heating"},{"x":0.891,"y":0.297,"s":"WNW-Al aft. heating"},{"x":0.944,"y":0.289,"s":"WNW-Al aft. heating"},{"x":1,"y":0.269,"s":"WNW-Al aft. heating"},{"x":1.06,"y":0.229,"s":"WNW-Al aft. heating"},{"x":1.123,"y":0.177,"s":"WNW-Al aft. heating"},{"x":1.19,"y":0.137,"s":"WNW-Al aft. heating"},{"x":1.26,"y":0.126,"s":"WNW-Al aft. heating"},{"x":1.36,"y":0.117,"s":"WNW-Al aft. heating"},{"x":1.47,"y":0.109,"s":"WNW-Al aft. heating"},{"x":1.59,"y":0.111,"s":"WNW-Al aft. heating"},{"x":1.72,"y":0.12,"s":"WNW-Al aft. heating"},{"x":1.91,"y":0.128,"s":"WNW-Al aft. heating"},{"x":2.02,"y":0.146,"s":"WNW-Al aft. heating"},{"x":2.1,"y":0.188,"s":"WNW-Al aft. heating"},{"x":2.22,"y":0.234,"s":"WNW-Al aft. heating"},{"x":2.41,"y":0.26,"s":"WNW-Al aft. heating"},{"x":2.65,"y":0.28,"s":"WNW-Al aft. heating"},{"x":2.86,"y":0.312,"s":"WNW-Al aft. heating"},{"x":3.09,"y":0.364,"s":"WNW-Al aft. heating"},{"x":3.33,"y":0.43,"s":"WNW-Al aft. heating"},{"x":3.61,"y":0.495,"s":"WNW-Al aft. heating"},{"x":3.9,"y":0.547,"s":"WNW-Al aft. heating"},{"x":4.21,"y":0.593,"s":"WNW-Al aft. heating"},{"x":4.54,"y":0.632,"s":"WNW-Al aft. heating"},{"x":5,"y":0.671,"s":"WNW-Al aft. heating"},{"x":5.61,"y":0.711,"s":"WNW-Al aft. heating"},{"x":6.55,"y":0.75,"s":"WNW-Al aft. heating"},{"x":7.94,"y":0.789,"s":"WNW-Al aft. heating"},{"x":9.62,"y":0.815,"s":"WNW-Al aft. heating"},{"x":11.66,"y":0.825,"s":"WNW-Al aft. heating"},{"x":14.1,"y":0.83,"s":"WNW-Al aft. heating"},{"x":15.1,"y":0.826,"s":"WNW-Al aft. heating"},{"x":17.2,"y":0.838,"s":"WNW-Al aft. heating"},{"x":20.8,"y":0.848,"s":"WNW-Al aft. heating"},{"x":23.3,"y":0.85,"s":"WNW-Al aft. heating"},{"x":24.3,"y":0.855,"s":"WNW-Al aft. heating"},{"x":25,"y":0.85,"s":"WNW-Al aft. heating"},
  {"x":0.4,"y":0.202,"s":"SiNW-Al bfr. heating"},{"x":0.406,"y":0.188,"s":"SiNW-Al bfr. heating"},{"x":0.418,"y":0.102,"s":"SiNW-Al bfr. heating"},{"x":0.434,"y":0.06,"s":"SiNW-Al bfr. heating"},{"x":0.447,"y":0.1,"s":"SiNW-Al bfr. heating"},{"x":0.46,"y":0.105,"s":"SiNW-Al bfr. heating"},{"x":0.483,"y":0.094,"s":"SiNW-Al bfr. heating"},{"x":0.511,"y":0.145,"s":"SiNW-Al bfr. heating"},{"x":0.531,"y":0.114,"s":"SiNW-Al bfr. heating"},{"x":0.547,"y":0.051,"s":"SiNW-Al bfr. heating"},{"x":0.563,"y":0.017,"s":"SiNW-Al bfr. heating"},{"x":0.579,"y":0.048,"s":"SiNW-Al bfr. heating"},{"x":0.602,"y":0.131,"s":"SiNW-Al bfr. heating"},{"x":0.613,"y":0.176,"s":"SiNW-Al bfr. heating"},{"x":0.623,"y":0.097,"s":"SiNW-Al bfr. heating"},{"x":0.635,"y":0.142,"s":"SiNW-Al bfr. heating"},{"x":0.662,"y":0.227,"s":"SiNW-Al bfr. heating"},{"x":0.682,"y":0.236,"s":"SiNW-Al bfr. heating"},{"x":0.708,"y":0.265,"s":"SiNW-Al bfr. heating"},{"x":0.729,"y":0.259,"s":"SiNW-Al bfr. heating"},{"x":0.757,"y":0.205,"s":"SiNW-Al bfr. heating"},{"x":0.794,"y":0.233,"s":"SiNW-Al bfr. heating"},{"x":0.826,"y":0.216,"s":"SiNW-Al bfr. heating"},{"x":0.866,"y":0.159,"s":"SiNW-Al bfr. heating"},{"x":0.917,"y":0.097,"s":"SiNW-Al bfr. heating"},{"x":0.972,"y":0.063,"s":"SiNW-Al bfr. heating"},{"x":1.02,"y":0.051,"s":"SiNW-Al bfr. heating"},{"x":1.059,"y":0.031,"s":"SiNW-Al bfr. heating"},{"x":1.101,"y":0.048,"s":"SiNW-Al bfr. heating"},{"x":1.144,"y":0.091,"s":"SiNW-Al bfr. heating"},{"x":1.2,"y":0.131,"s":"SiNW-Al bfr. heating"},{"x":1.271,"y":0.151,"s":"SiNW-Al bfr. heating"},{"x":1.399,"y":0.159,"s":"SiNW-Al bfr. heating"},{"x":1.57,"y":0.165,"s":"SiNW-Al bfr. heating"},{"x":1.76,"y":0.174,"s":"SiNW-Al bfr. heating"},{"x":2.14,"y":0.204,"s":"SiNW-Al bfr. heating"},{"x":2.75,"y":0.237,"s":"SiNW-Al bfr. heating"},{"x":3.67,"y":0.257,"s":"SiNW-Al bfr. heating"},{"x":4.9,"y":0.273,"s":"SiNW-Al bfr. heating"},{"x":6.55,"y":0.283,"s":"SiNW-Al bfr. heating"},{"x":8.74,"y":0.296,"s":"SiNW-Al bfr. heating"},{"x":10.6,"y":0.306,"s":"SiNW-Al bfr. heating"},{"x":12.85,"y":0.325,"s":"SiNW-Al bfr. heating"},{"x":14.1,"y":0.338,"s":"SiNW-Al bfr. heating"},{"x":14.5,"y":0.36,"s":"SiNW-Al bfr. heating"},{"x":15,"y":0.374,"s":"SiNW-Al bfr. heating"},{"x":15.7,"y":0.381,"s":"SiNW-Al bfr. heating"},{"x":16.1,"y":0.36,"s":"SiNW-Al bfr. heating"},{"x":16.5,"y":0.319,"s":"SiNW-Al bfr. heating"},{"x":17.2,"y":0.358,"s":"SiNW-Al bfr. heating"},{"x":18.9,"y":0.39,"s":"SiNW-Al bfr. heating"},{"x":20.8,"y":0.417,"s":"SiNW-Al bfr. heating"},{"x":22.4,"y":0.456,"s":"SiNW-Al bfr. heating"},{"x":23,"y":0.46,"s":"SiNW-Al bfr. heating"},{"x":23.8,"y":0.482,"s":"SiNW-Al bfr. heating"},{"x":24.4,"y":0.51,"s":"SiNW-Al bfr. heating"},{"x":25,"y":0.528,"s":"SiNW-Al bfr. heating"},
  {"x":0.4,"y":0.195,"s":"SiNW-Al aft. heating"},{"x":0.418,"y":0.1,"s":"SiNW-Al aft. heating"},{"x":0.434,"y":0.062,"s":"SiNW-Al aft. heating"},{"x":0.447,"y":0.098,"s":"SiNW-Al aft. heating"},{"x":0.46,"y":0.103,"s":"SiNW-Al aft. heating"},{"x":0.483,"y":0.092,"s":"SiNW-Al aft. heating"},{"x":0.511,"y":0.142,"s":"SiNW-Al aft. heating"},{"x":0.531,"y":0.11,"s":"SiNW-Al aft. heating"},{"x":0.547,"y":0.05,"s":"SiNW-Al aft. heating"},{"x":0.563,"y":0.02,"s":"SiNW-Al aft. heating"},{"x":0.579,"y":0.05,"s":"SiNW-Al aft. heating"},{"x":0.602,"y":0.125,"s":"SiNW-Al aft. heating"},{"x":0.613,"y":0.165,"s":"SiNW-Al aft. heating"},{"x":0.623,"y":0.1,"s":"SiNW-Al aft. heating"},{"x":0.635,"y":0.14,"s":"SiNW-Al aft. heating"},{"x":0.662,"y":0.22,"s":"SiNW-Al aft. heating"},{"x":0.682,"y":0.232,"s":"SiNW-Al aft. heating"},{"x":0.708,"y":0.255,"s":"SiNW-Al aft. heating"},{"x":0.729,"y":0.24,"s":"SiNW-Al aft. heating"},{"x":0.757,"y":0.19,"s":"SiNW-Al aft. heating"},{"x":0.794,"y":0.225,"s":"SiNW-Al aft. heating"},{"x":0.826,"y":0.205,"s":"SiNW-Al aft. heating"},{"x":0.866,"y":0.15,"s":"SiNW-Al aft. heating"},{"x":0.917,"y":0.092,"s":"SiNW-Al aft. heating"},{"x":0.972,"y":0.06,"s":"SiNW-Al aft. heating"},{"x":1.02,"y":0.05,"s":"SiNW-Al aft. heating"},{"x":1.059,"y":0.033,"s":"SiNW-Al aft. heating"},{"x":1.101,"y":0.05,"s":"SiNW-Al aft. heating"},{"x":1.144,"y":0.09,"s":"SiNW-Al aft. heating"},{"x":1.2,"y":0.128,"s":"SiNW-Al aft. heating"},{"x":1.271,"y":0.148,"s":"SiNW-Al aft. heating"},{"x":1.399,"y":0.157,"s":"SiNW-Al aft. heating"},{"x":1.57,"y":0.163,"s":"SiNW-Al aft. heating"},{"x":1.76,"y":0.172,"s":"SiNW-Al aft. heating"},{"x":2.14,"y":0.2,"s":"SiNW-Al aft. heating"},{"x":2.75,"y":0.233,"s":"SiNW-Al aft. heating"},{"x":3.67,"y":0.254,"s":"SiNW-Al aft. heating"},{"x":4.9,"y":0.27,"s":"SiNW-Al aft. heating"},{"x":6.55,"y":0.281,"s":"SiNW-Al aft. heating"},{"x":8.74,"y":0.293,"s":"SiNW-Al aft. heating"},{"x":10.6,"y":0.304,"s":"SiNW-Al aft. heating"},{"x":12.85,"y":0.322,"s":"SiNW-Al aft. heating"},{"x":14.1,"y":0.336,"s":"SiNW-Al aft. heating"},{"x":15,"y":0.37,"s":"SiNW-Al aft. heating"},{"x":15.7,"y":0.378,"s":"SiNW-Al aft. heating"},{"x":16.1,"y":0.355,"s":"SiNW-Al aft. heating"},{"x":16.5,"y":0.322,"s":"SiNW-Al aft. heating"},{"x":17.2,"y":0.355,"s":"SiNW-Al aft. heating"},{"x":18.9,"y":0.386,"s":"SiNW-Al aft. heating"},{"x":20.8,"y":0.414,"s":"SiNW-Al aft. heating"},{"x":22.4,"y":0.45,"s":"SiNW-Al aft. heating"},{"x":23.8,"y":0.478,"s":"SiNW-Al aft. heating"},{"x":24.4,"y":0.5,"s":"SiNW-Al aft. heating"},{"x":25,"y":0.52,"s":"SiNW-Al aft. heating"}]
},
"layer": [
 {"data": {"values": [{}]}, "mark": {"type": "rect", "color": "#ffffff"},
  "encoding": {"x": {"datum": 0, "type": "quantitative", "scale": {"domain": [0, 1], "range": [151, 2103]}, "axis": null},
   "x2": {"datum": 1},
   "y": {"datum": 0, "type": "quantitative", "scale": {"domain": [0, 1], "range": [296, 1875]}, "axis": null},
   "y2": {"datum": 1}}},
 {"data": {"name": "header"}, "mark": {"type": "text", "align": "right", "baseline": "alphabetic", "font": "Liberation Sans", "fontSize": 44.7, "fontWeight": "bold", "color": "#4a4236"},
  "encoding": {"x": {"datum": 1, "type": "quantitative", "scale": {"domain": [0, 1], "range": [151, 2097]}, "axis": null},
   "y": {"field": "h", "type": "ordinal", "scale": {"type": "point", "range": [185, 237], "padding": 0}, "axis": null},
   "text": {"field": "t"}}},

 {"data": {"values": []}, "mark": {"type": "point", "opacity": 0},
  "encoding": {"x": {"field": "x", "type": "quantitative", "scale": {"type": "log", "domain": [0.4, 25], "range": [354, 1073], "nice": false},
    "axis": {"orient": "bottom", "offset": -2300, "values": [0.4, 1, 5, 10, 25], "format": "~g", "ticks": false, "tickSize": 0, "domain": true, "labelPadding": 8, "title": "Wavelength (μm)", "titlePadding": 21, "zindex": 1}},
   "y": {"field": "y", "type": "quantitative", "scale": {"domain": [0, 1], "range": [950, 364], "nice": false, "zero": false},
    "axis": {"orient": "left", "offset": -354, "values": [0, 0.2, 0.4, 0.6, 0.8, 1], "format": ".1f", "ticks": false, "tickSize": 0, "domain": true, "labelPadding": 14, "title": "Spectral Reflectance", "titlePadding": 27, "zindex": 1}}}},
 {"data": {"values": []}, "mark": {"type": "point", "opacity": 0},
  "encoding": {"x": {"field": "x", "type": "quantitative", "scale": {"type": "log", "domain": [0.4, 25], "range": [354, 1073], "nice": false},
    "axis": {"orient": "top", "offset": -950, "values": [0.5, 0.6, 0.7, 0.8, 0.9, 1, 2, 3, 4, 5, 6, 7, 8, 9, 10, 20], "labels": false, "domain": false, "tickSize": {"condition": {"test": "indexof([1,5,10], datum.value) >= 0", "value": 13}, "value": 7}, "title": null, "zindex": 1}},
   "y": {"field": "y", "type": "quantitative", "scale": {"domain": [0, 1], "range": [950, 364], "nice": false, "zero": false},
    "axis": {"orient": "right", "offset": -1896, "values": [0, 0.1, 0.2, 0.3, 0.4, 0.5, 0.6, 0.7, 0.8, 0.9, 1], "labels": false, "domain": false, "tickSize": {"condition": {"test": "abs(datum.value*5 - round(datum.value*5)) < 0.01", "value": 13}, "value": 7}, "title": null, "zindex": 1}}}},
 {"data": {"values": []}, "mark": {"type": "point", "opacity": 0},
  "encoding": {"x": {"field": "x", "type": "quantitative", "scale": {"type": "log", "domain": [0.4, 25], "range": [354, 1073], "nice": false},
    "axis": {"orient": "bottom", "offset": -2886, "values": [0.5, 0.6, 0.7, 0.8, 0.9, 1, 2, 3, 4, 5, 6, 7, 8, 9, 10, 20], "labels": false, "domain": true, "tickSize": {"condition": {"test": "indexof([1,5,10], datum.value) >= 0", "value": 13}, "value": 7}, "title": null, "zindex": 1}},
   "y": {"field": "y", "type": "quantitative", "scale": {"domain": [0, 1], "range": [950, 364], "nice": false, "zero": false},
    "axis": {"orient": "left", "offset": -1073, "values": [0, 0.1, 0.2, 0.3, 0.4, 0.5, 0.6, 0.7, 0.8, 0.9, 1], "labels": false, "domain": true, "tickSize": {"condition": {"test": "abs(datum.value*5 - round(datum.value*5)) < 0.01", "value": 13}, "value": 7}, "title": null, "zindex": 1}}}},
 {"data": {"name": "a"}, "mark": {"type": "line", "strokeWidth": 3, "strokeJoin": "round"},
  "encoding": {"x": {"field": "x", "type": "quantitative", "scale": {"type": "log", "domain": [0.4, 25], "range": [354, 1073], "nice": false}, "axis": null},
   "y": {"field": "y", "type": "quantitative", "scale": {"domain": [0, 1], "range": [950, 364], "nice": false, "zero": false}, "axis": null},
   "color": {"field": "s", "type": "nominal", "scale": {"domain": ["WNW-Al", "SiNW-Al", "WNW", "SiNW"], "range": ["#e8323a", "#2626d0", "#e8323a", "#2626d0"]},
    "legend": {"orient": "none", "legendX": 421, "legendY": 397, "title": null, "symbolType": "M-2.23,0L2.23,0", "symbolSize": 900, "symbolStrokeWidth": 3, "labelFont": "Liberation Sans", "labelFontSize": 29, "labelColor": "#222", "labelOffset": 26, "labelLimit": 1000, "rowPadding": 5, "padding": 0, "direction": "vertical"}},
   "strokeDash": {"field": "s", "type": "nominal", "scale": {"domain": ["WNW-Al", "SiNW-Al", "WNW", "SiNW"], "range": [[1, 0], [1, 0], [14, 9], [14, 9]]},
    "legend": {"orient": "none", "legendX": 421, "legendY": 397, "title": null, "symbolType": "M-2.23,0L2.23,0", "symbolSize": 900, "symbolStrokeWidth": 3, "labelFont": "Liberation Sans", "labelFontSize": 29, "labelColor": "#222", "labelOffset": 26, "labelLimit": 1000, "rowPadding": 5, "padding": 0, "direction": "vertical"}}}},
 {"data": {"values": [{}]}, "mark": {"type": "text", "font": "Liberation Sans", "fontSize": 78, "color": "#1a1a1a", "align": "center", "baseline": "middle"},
  "encoding": {"x": {"datum": 0.185, "type": "quantitative", "scale": {"type": "log", "domain": [0.4, 25], "range": [354, 1073], "nice": false}, "axis": null},
   "y": {"datum": 1, "type": "quantitative", "scale": {"domain": [0, 1], "range": [950, 364], "nice": false, "zero": false}, "axis": null},
   "text": {"value": "(a)"}}},

 {"data": {"values": []}, "mark": {"type": "point", "opacity": 0},
  "encoding": {"x": {"field": "x", "type": "quantitative", "scale": {"type": "log", "domain": [0.4, 25], "range": [1303, 2024], "nice": false},
    "axis": {"orient": "bottom", "offset": -2300, "values": [0.4, 1, 5, 10, 25], "format": "~g", "ticks": false, "tickSize": 0, "domain": true, "labelPadding": 8, "title": "Wavelength (μm)", "titlePadding": 15, "zindex": 1}},
   "y": {"field": "y", "type": "quantitative", "scale": {"domain": [0, 1], "range": [950, 364], "nice": false, "zero": false},
    "axis": {"orient": "left", "offset": -1303, "values": [0, 0.2, 0.4, 0.6, 0.8, 1], "format": ".1f", "ticks": false, "tickSize": 0, "domain": true, "labelPadding": 14, "title": "Spectral Absorptance", "titlePadding": 30, "zindex": 1}}}},
 {"data": {"values": []}, "mark": {"type": "point", "opacity": 0},
  "encoding": {"x": {"field": "x", "type": "quantitative", "scale": {"type": "log", "domain": [0.4, 25], "range": [1303, 2024], "nice": false},
    "axis": {"orient": "top", "offset": -950, "values": [0.5, 0.6, 0.7, 0.8, 0.9, 1, 2, 3, 4, 5, 6, 7, 8, 9, 10, 20], "labels": false, "domain": false, "tickSize": {"condition": {"test": "indexof([1,5,10], datum.value) >= 0", "value": 13}, "value": 7}, "title": null, "zindex": 1}},
   "y": {"field": "y", "type": "quantitative", "scale": {"domain": [0, 1], "range": [950, 364], "nice": false, "zero": false},
    "axis": {"orient": "right", "offset": -947, "values": [0, 0.1, 0.2, 0.3, 0.4, 0.5, 0.6, 0.7, 0.8, 0.9, 1], "labels": false, "domain": false, "tickSize": {"condition": {"test": "abs(datum.value*5 - round(datum.value*5)) < 0.01", "value": 13}, "value": 7}, "title": null, "zindex": 1}}}},
 {"data": {"values": []}, "mark": {"type": "point", "opacity": 0},
  "encoding": {"x": {"field": "x", "type": "quantitative", "scale": {"type": "log", "domain": [0.4, 25], "range": [1303, 2024], "nice": false},
    "axis": {"orient": "bottom", "offset": -2886, "values": [0.5, 0.6, 0.7, 0.8, 0.9, 1, 2, 3, 4, 5, 6, 7, 8, 9, 10, 20], "labels": false, "domain": true, "tickSize": {"condition": {"test": "indexof([1,5,10], datum.value) >= 0", "value": 13}, "value": 7}, "title": null, "zindex": 1}},
   "y": {"field": "y", "type": "quantitative", "scale": {"domain": [0, 1], "range": [950, 364], "nice": false, "zero": false},
    "axis": {"orient": "left", "offset": -2024, "values": [0, 0.1, 0.2, 0.3, 0.4, 0.5, 0.6, 0.7, 0.8, 0.9, 1], "labels": false, "domain": true, "tickSize": {"condition": {"test": "abs(datum.value*5 - round(datum.value*5)) < 0.01", "value": 13}, "value": 7}, "title": null, "zindex": 1}}}},
 {"data": {"name": "b"}, "mark": {"type": "line", "strokeWidth": 3, "strokeJoin": "round"},
  "encoding": {"x": {"field": "x", "type": "quantitative", "scale": {"type": "log", "domain": [0.4, 25], "range": [1303, 2024], "nice": false}, "axis": null},
   "y": {"field": "y", "type": "quantitative", "scale": {"domain": [0, 1], "range": [950, 364], "nice": false, "zero": false}, "axis": null},
   "color": {"field": "s", "type": "nominal", "scale": {"domain": ["WNW-Al", "SiNW-Al"], "range": ["#e8323a", "#2626d0"]},
    "legend": {"orient": "none", "legendX": 1809, "legendY": 394, "title": null, "symbolType": "M-2.7,0L2.7,0", "symbolSize": 900, "symbolStrokeWidth": 3, "labelFont": "Liberation Sans", "labelFontSize": 35, "labelColor": "#222", "labelOffset": 34, "labelLimit": 1000, "rowPadding": 9, "padding": 0, "direction": "vertical"}}}},
 {"data": {"name": "solar"}, "mark": {"type": "area", "color": "#f8d4ac", "blend": "multiply", "opacity": 1},
  "encoding": {"x": {"field": "x", "type": "quantitative", "scale": {"type": "log", "domain": [0.4, 25], "range": [1303, 2024], "nice": false}, "axis": null},
   "y": {"field": "y", "type": "quantitative", "scale": {"domain": [0, 1], "range": [950, 364], "nice": false, "zero": false}, "axis": null}}},
 {"data": {"name": "bb"}, "mark": {"type": "area", "color": "#abd7a7", "blend": "multiply", "opacity": 1},
  "encoding": {"x": {"field": "x", "type": "quantitative", "scale": {"type": "log", "domain": [0.4, 25], "range": [1303, 2024], "nice": false}, "axis": null},
   "y": {"field": "y", "type": "quantitative", "scale": {"domain": [0, 1], "range": [950, 364], "nice": false, "zero": false}, "axis": null}}},
 {"data": {"values": [{}]}, "mark": {"type": "text", "font": "Liberation Sans", "fontSize": 26, "color": "#333", "align": "center", "baseline": "middle", "lineHeight": 31},
  "encoding": {"x": {"datum": 0.7645, "type": "quantitative", "scale": {"type": "log", "domain": [0.4, 25], "range": [1303, 2024], "nice": false}, "axis": null},
   "y": {"datum": 0.107, "type": "quantitative", "scale": {"domain": [0, 1], "range": [950, 364], "nice": false, "zero": false}, "axis": null},
   "text": {"value": ["AM1.5", "Solar Irradiance"]}}},
 {"data": {"values": [{}]}, "mark": {"type": "text", "font": "Liberation Sans", "fontSize": 26, "color": "#2e3a2e", "align": "center", "baseline": "middle", "lineHeight": 31},
  "encoding": {"x": {"datum": 5.165, "type": "quantitative", "scale": {"type": "log", "domain": [0.4, 25], "range": [1303, 2024], "nice": false}, "axis": null},
   "y": {"datum": 0.11, "type": "quantitative", "scale": {"domain": [0, 1], "range": [950, 364], "nice": false, "zero": false}, "axis": null},
   "text": {"value": ["Blackbody Emission", "at 400°C"]}}},
 {"data": {"values": [{}]}, "mark": {"type": "text", "font": "Liberation Sans", "fontSize": 78, "color": "#1a1a1a", "align": "center", "baseline": "middle"},
  "encoding": {"x": {"datum": 0.2068, "type": "quantitative", "scale": {"type": "log", "domain": [0.4, 25], "range": [1303, 2024], "nice": false}, "axis": null},
   "y": {"datum": 1, "type": "quantitative", "scale": {"domain": [0, 1], "range": [950, 364], "nice": false, "zero": false}, "axis": null},
   "text": {"value": "(b)"}}},

 {"data": {"values": []}, "mark": {"type": "point", "opacity": 0},
  "encoding": {"x": {"field": "x", "type": "quantitative", "scale": {"domain": [0, 800], "range": [361, 1083], "nice": false, "zero": false},
    "axis": {"orient": "bottom", "offset": -1545, "values": [0, 200, 400, 600, 800], "format": "d", "ticks": false, "tickSize": 0, "domain": true, "labelPadding": 8, "title": "Absorber Temperature (°C)", "titlePadding": 30, "zindex": 1}},
   "y": {"field": "y", "type": "quantitative", "scale": {"domain": [0, 1], "range": [1705, 1121], "nice": false, "zero": false},
    "axis": {"orient": "left", "offset": -361, "values": [0, 0.2, 0.4, 0.6, 0.8, 1], "format": ".1f", "ticks": false, "tickSize": 0, "domain": true, "labelPadding": 14, "title": "Total Emittance", "titlePadding": 34, "zindex": 1}}}},
 {"data": {"values": []}, "mark": {"type": "point", "opacity": 0},
  "encoding": {"x": {"field": "x", "type": "quantitative", "scale": {"domain": [0, 800], "range": [361, 1083], "nice": false, "zero": false},
    "axis": {"orient": "top", "offset": -1705, "values": [0, 50, 100, 150, 200, 250, 300, 350, 400, 450, 500, 550, 600, 650, 700, 750, 800], "labels": false, "domain": false, "tickSize": {"condition": {"test": "datum.value % 200 == 0", "value": 13}, "value": 7}, "title": null, "zindex": 1}},
   "y": {"field": "y", "type": "quantitative", "scale": {"domain": [0, 1], "range": [1705, 1121], "nice": false, "zero": false},
    "axis": {"orient": "right", "offset": -1889, "values": [0, 0.1, 0.2, 0.3, 0.4, 0.5, 0.6, 0.7, 0.8, 0.9, 1], "labels": false, "domain": false, "tickSize": {"condition": {"test": "abs(datum.value*5 - round(datum.value*5)) < 0.01", "value": 13}, "value": 7}, "title": null, "zindex": 1}}}},
 {"data": {"values": []}, "mark": {"type": "point", "opacity": 0},
  "encoding": {"x": {"field": "x", "type": "quantitative", "scale": {"domain": [0, 800], "range": [361, 1083], "nice": false, "zero": false},
    "axis": {"orient": "bottom", "offset": -2129, "values": [0, 50, 100, 150, 200, 250, 300, 350, 400, 450, 500, 550, 600, 650, 700, 750, 800], "labels": false, "domain": true, "tickSize": {"condition": {"test": "datum.value % 200 == 0", "value": 13}, "value": 7}, "title": null, "zindex": 1}},
   "y": {"field": "y", "type": "quantitative", "scale": {"domain": [0, 1], "range": [1705, 1121], "nice": false, "zero": false},
    "axis": {"orient": "left", "offset": -1083, "values": [0, 0.1, 0.2, 0.3, 0.4, 0.5, 0.6, 0.7, 0.8, 0.9, 1], "labels": false, "domain": true, "tickSize": {"condition": {"test": "abs(datum.value*5 - round(datum.value*5)) < 0.01", "value": 13}, "value": 7}, "title": null, "zindex": 1}}}},
 {"data": {"name": "c"}, "mark": {"type": "line", "strokeWidth": 3, "strokeJoin": "round"},
  "encoding": {"x": {"field": "x", "type": "quantitative", "scale": {"domain": [0, 800], "range": [361, 1083], "nice": false, "zero": false}, "axis": null},
   "y": {"field": "y", "type": "quantitative", "scale": {"domain": [0, 1], "range": [1705, 1121], "nice": false, "zero": false}, "axis": null},
   "color": {"field": "s", "type": "nominal", "scale": {"domain": ["WNW-Al", "SiNW-Al"], "range": ["#e8323a", "#2626d0"]},
    "legend": {"orient": "none", "legendX": 831, "legendY": 1576, "title": null, "symbolType": "M-2.7,0L2.7,0", "symbolSize": 900, "symbolStrokeWidth": 3, "labelFont": "Liberation Sans", "labelFontSize": 35, "labelColor": "#222", "labelOffset": 35, "labelLimit": 1000, "rowPadding": 10, "padding": 0, "direction": "vertical"}}}},
 {"data": {"values": [{}]}, "mark": {"type": "text", "font": "Liberation Sans", "fontSize": 78, "color": "#1a1a1a", "align": "center", "baseline": "middle"},
  "encoding": {"x": {"datum": -150, "type": "quantitative", "scale": {"domain": [0, 800], "range": [361, 1083], "nice": false, "zero": false}, "axis": null},
   "y": {"datum": 1.022, "type": "quantitative", "scale": {"domain": [0, 1], "range": [1705, 1121], "nice": false, "zero": false}, "axis": null},
   "text": {"value": "(c)"}}},

 {"data": {"values": []}, "mark": {"type": "point", "opacity": 0},
  "encoding": {"x": {"field": "x", "type": "quantitative", "scale": {"type": "log", "domain": [0.4, 25], "range": [1307, 2027], "nice": false},
    "axis": {"orient": "bottom", "offset": -1545, "values": [0.4, 1, 5, 10, 25], "format": "~g", "ticks": false, "tickSize": 0, "domain": true, "labelPadding": 8, "title": "Wavelength (μm)", "titlePadding": 30, "zindex": 1}},
   "y": {"field": "y", "type": "quantitative", "scale": {"domain": [0, 1], "range": [1705, 1121], "nice": false, "zero": false},
    "axis": {"orient": "left", "offset": -1307, "values": [0, 0.2, 0.4, 0.6, 0.8, 1], "format": ".1f", "ticks": false, "tickSize": 0, "domain": true, "labelPadding": 14, "title": "Spectral Reflectance", "titlePadding": 28, "zindex": 1}}}},
 {"data": {"values": []}, "mark": {"type": "point", "opacity": 0},
  "encoding": {"x": {"field": "x", "type": "quantitative", "scale": {"type": "log", "domain": [0.4, 25], "range": [1307, 2027], "nice": false},
    "axis": {"orient": "top", "offset": -1705, "values": [0.5, 0.6, 0.7, 0.8, 0.9, 1, 2, 3, 4, 5, 6, 7, 8, 9, 10, 20], "labels": false, "domain": false, "tickSize": {"condition": {"test": "indexof([1,5,10], datum.value) >= 0", "value": 13}, "value": 7}, "title": null, "zindex": 1}},
   "y": {"field": "y", "type": "quantitative", "scale": {"domain": [0, 1], "range": [1705, 1121], "nice": false, "zero": false},
    "axis": {"orient": "right", "offset": -943, "values": [0, 0.1, 0.2, 0.3, 0.4, 0.5, 0.6, 0.7, 0.8, 0.9, 1], "labels": false, "domain": false, "tickSize": {"condition": {"test": "abs(datum.value*5 - round(datum.value*5)) < 0.01", "value": 13}, "value": 7}, "title": null, "zindex": 1}}}},
 {"data": {"values": []}, "mark": {"type": "point", "opacity": 0},
  "encoding": {"x": {"field": "x", "type": "quantitative", "scale": {"type": "log", "domain": [0.4, 25], "range": [1307, 2027], "nice": false},
    "axis": {"orient": "bottom", "offset": -2129, "values": [0.5, 0.6, 0.7, 0.8, 0.9, 1, 2, 3, 4, 5, 6, 7, 8, 9, 10, 20], "labels": false, "domain": true, "tickSize": {"condition": {"test": "indexof([1,5,10], datum.value) >= 0", "value": 13}, "value": 7}, "title": null, "zindex": 1}},
   "y": {"field": "y", "type": "quantitative", "scale": {"domain": [0, 1], "range": [1705, 1121], "nice": false, "zero": false},
    "axis": {"orient": "left", "offset": -2027, "values": [0, 0.1, 0.2, 0.3, 0.4, 0.5, 0.6, 0.7, 0.8, 0.9, 1], "labels": false, "domain": true, "tickSize": {"condition": {"test": "abs(datum.value*5 - round(datum.value*5)) < 0.01", "value": 13}, "value": 7}, "title": null, "zindex": 1}}}},
 {"data": {"name": "d"}, "mark": {"type": "line", "strokeWidth": 3, "strokeJoin": "round"},
  "encoding": {"x": {"field": "x", "type": "quantitative", "scale": {"type": "log", "domain": [0.4, 25], "range": [1307, 2027], "nice": false}, "axis": null},
   "y": {"field": "y", "type": "quantitative", "scale": {"domain": [0, 1], "range": [1705, 1121], "nice": false, "zero": false}, "axis": null},
   "color": {"field": "s", "type": "nominal", "scale": {"domain": ["WNW-Al bfr. heating", "SiNW-Al bfr. heating", "WNW-Al aft. heating", "SiNW-Al aft. heating"], "range": ["#e8323a", "#2626d0", "#e8323a", "#2626d0"]},
    "legend": {"orient": "none", "legendX": 1354, "legendY": 1155, "title": null, "symbolType": "M-2.9,0L2.9,0", "symbolSize": 900, "symbolStrokeWidth": 3, "labelFont": "Liberation Sans", "labelFontSize": 32, "labelColor": "#222", "labelOffset": 36, "labelLimit": 1000, "rowPadding": 7, "padding": 0, "direction": "vertical"}},
   "strokeDash": {"field": "s", "type": "nominal", "scale": {"domain": ["WNW-Al bfr. heating", "SiNW-Al bfr. heating", "WNW-Al aft. heating", "SiNW-Al aft. heating"], "range": [[1, 0], [1, 0], [14, 9], [14, 9]]},
    "legend": {"orient": "none", "legendX": 1354, "legendY": 1155, "title": null, "symbolType": "M-2.9,0L2.9,0", "symbolSize": 900, "symbolStrokeWidth": 3, "labelFont": "Liberation Sans", "labelFontSize": 32, "labelColor": "#222", "labelOffset": 36, "labelLimit": 1000, "rowPadding": 7, "padding": 0, "direction": "vertical"}}}},
 {"data": {"values": [{}]}, "mark": {"type": "text", "font": "Liberation Sans", "fontSize": 78, "color": "#1a1a1a", "align": "center", "baseline": "middle"},
  "encoding": {"x": {"datum": 0.203, "type": "quantitative", "scale": {"type": "log", "domain": [0.4, 25], "range": [1307, 2027], "nice": false}, "axis": null},
   "y": {"datum": 1.022, "type": "quantitative", "scale": {"domain": [0, 1], "range": [1705, 1121], "nice": false, "zero": false}, "axis": null},
   "text": {"value": "(d)"}}},

 {"data": {"name": "caption"}, "mark": {"type": "text", "align": "left", "baseline": "alphabetic", "font": "Open Sans", "fontSize": 50, "color": "#4472c4"},
  "encoding": {"x": {"datum": 0, "type": "quantitative", "scale": {"domain": [0, 1], "range": [151, 2103]}, "axis": null},
   "y": {"field": "line", "type": "ordinal", "scale": {"type": "point", "range": [1958, 3128], "padding": 0}, "axis": null},
   "text": {"field": "t"}}},
 {"data": {"values": [{}]}, "mark": {"type": "point", "shape": "M-0.92,-0.675L0,-0.675L0,0.675L-1.25,0.675Z", "size": 40000, "filled": true, "color": "#b9a083", "opacity": 1, "strokeWidth": 0},
  "encoding": {"x": {"datum": 1, "type": "quantitative", "scale": {"domain": [0, 1], "range": [0, 2250]}, "axis": null},
   "y": {"datum": 0.5, "type": "quantitative", "scale": {"domain": [0, 1], "range": [3071, 3206]}, "axis": null}}},
 {"data": {"values": [{}]}, "mark": {"type": "text", "font": "Liberation Sans", "fontSize": 50, "fontWeight": "bold", "color": "#f4f2ee", "align": "center", "baseline": "middle"},
  "encoding": {"x": {"datum": 0.5, "type": "quantitative", "scale": {"domain": [0, 1], "range": [2144, 2250]}, "axis": null},
   "y": {"datum": 0.5, "type": "quantitative", "scale": {"domain": [0, 1], "range": [3071, 3206]}, "axis": null},
   "text": {"value": "20"}}}
]
}
